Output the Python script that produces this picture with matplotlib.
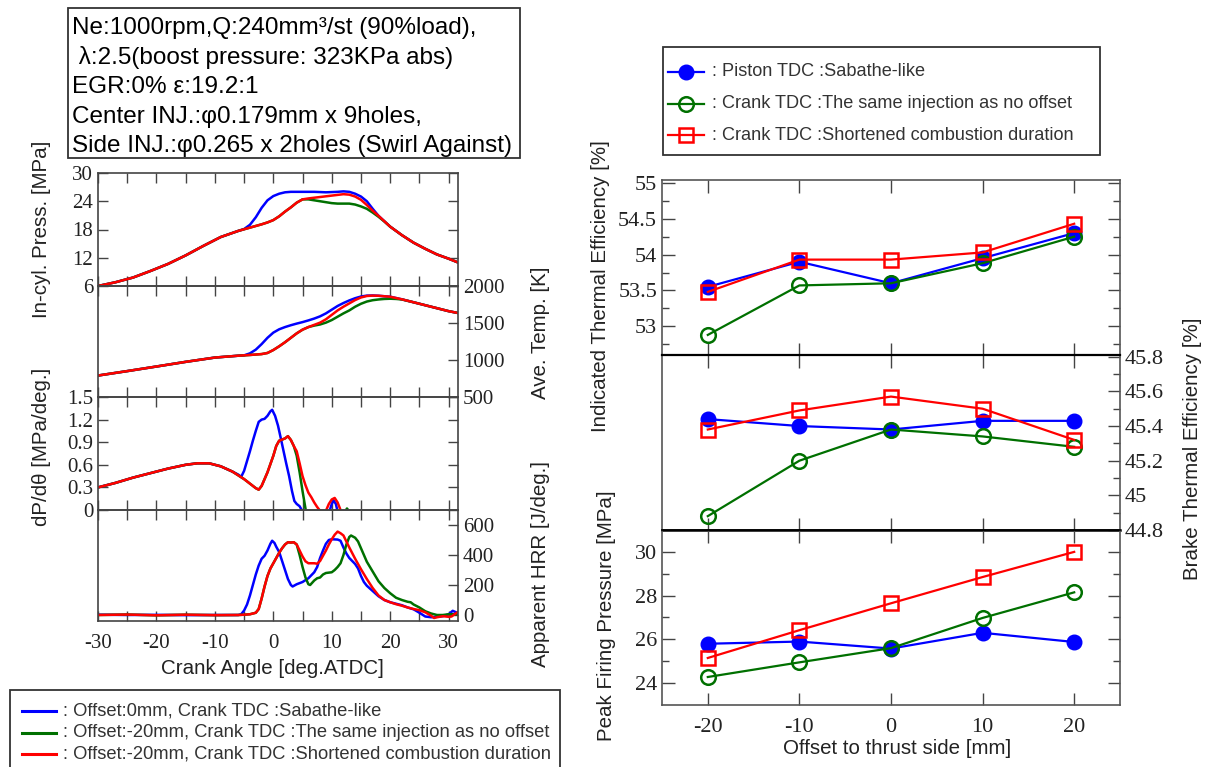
import matplotlib
matplotlib.use('Agg')
import matplotlib.pyplot as plt
from matplotlib.patches import Rectangle
from matplotlib.lines import Line2D

# ---------------- data ----------------
# In-cylinder pressure [MPa]
ca_p_red = [-30, -27, -24, -21, -18, -15, -12, -9, -6, -4, -2, -1, 0, 1, 2, 3, 4, 5, 6, 8, 10, 12, 13,
            14, 15, 16, 17, 18, 20, 22, 24, 26, 28, 30, 31.6]
p_red = [6.0, 6.8, 7.8, 9.2, 10.7, 12.5, 14.5, 16.4, 17.7, 18.4, 19.1, 19.5, 20.0, 20.8, 21.8, 22.7, 23.7,
         24.4, 24.6, 24.9, 25.2, 25.5, 25.4, 25.0, 24.3, 23.2, 22.0, 20.9, 18.6, 16.8, 15.2, 13.9, 12.7,
         11.8, 11.0]
ca_p_blue = [-30, -27, -24, -21, -18, -15, -12, -9, -6, -5, -4, -3, -2, -1, 0, 1, 2, 3, 5, 7, 9, 11, 12,
             13, 14, 15, 16, 17, 18, 20, 22, 24, 26, 28, 30, 31.6]
p_blue = [6.0, 6.8, 7.8, 9.2, 10.7, 12.5, 14.5, 16.4, 17.7, 18.1, 19.0, 20.6, 22.6, 24.2, 25.1, 25.6, 25.9,
          26.0, 26.0, 26.0, 25.9, 26.0, 26.1, 26.0, 25.6, 25.0, 24.0, 22.4, 20.9, 18.6, 16.8, 15.2, 13.9,
          12.7, 11.8, 11.0]
ca_p_green = [-30, -27, -24, -21, -18, -15, -12, -9, -6, -4, -2, -1, 0, 1, 2, 3, 4, 5, 6, 7, 8, 9, 10, 11,
              12, 13, 14, 15, 16, 17, 18, 19, 20, 22, 24, 26, 28, 30, 31.6]
p_green = [6.0, 6.8, 7.8, 9.2, 10.7, 12.5, 14.5, 16.4, 17.7, 18.4, 19.1, 19.5, 20.0, 20.8, 21.8, 22.7, 23.7,
           24.4, 24.4, 24.2, 24.0, 23.8, 23.6, 23.5, 23.5, 23.5, 23.3, 22.9, 22.4, 21.6, 20.7, 19.7, 18.6,
           16.8, 15.2, 13.9, 12.7, 11.8, 11.0]

# Average temperature [K]
ca_t_red = [-30, -25, -20, -15, -10, -6, -4, -2, -1, 0, 1, 2, 3, 4, 5, 6, 7, 8, 9, 10, 11, 12, 13, 14, 15,
            16, 17, 18, 20, 22, 24, 26, 28, 30, 31.6]
t_red = [790, 850, 912, 975, 1033, 1058, 1068, 1080, 1095, 1135, 1185, 1240, 1300, 1360, 1410, 1445, 1475,
         1505, 1550, 1610, 1670, 1720, 1765, 1810, 1845, 1865, 1870, 1868, 1855, 1820, 1780, 1740, 1700,
         1660, 1635]
ca_t_blue = [-30, -25, -20, -15, -10, -6, -5, -4, -3, -2, -1, 0, 1, 2, 3, 4, 5, 6, 7, 8, 9, 10, 11, 12, 13,
             14, 15, 16, 17, 18, 20, 22, 24, 26, 28, 30, 31.6]
t_blue = [790, 850, 912, 975, 1033, 1058, 1063, 1090, 1140, 1215, 1300, 1370, 1415, 1445, 1470, 1492, 1512,
          1535, 1560, 1590, 1630, 1680, 1730, 1770, 1805, 1835, 1858, 1870, 1872, 1868, 1855, 1820, 1780,
          1740, 1700, 1660, 1635]
ca_t_green = [-30, -25, -20, -15, -10, -6, -4, -2, -1, 0, 1, 2, 3, 4, 5, 6, 7, 8, 9, 10, 11, 12, 13, 14, 15,
              16, 17, 18, 19, 20, 21, 22, 24, 26, 28, 30, 31.6]
t_green = [790, 850, 912, 975, 1033, 1058, 1068, 1080, 1095, 1135, 1185, 1240, 1300, 1360, 1410, 1445, 1465,
           1480, 1505, 1540, 1585, 1630, 1670, 1720, 1760, 1790, 1808, 1818, 1825, 1828, 1825, 1818, 1780,
           1740, 1700, 1660, 1635]

# dP/dtheta [MPa/deg]
ca_d_red = [-30, -27, -24, -21, -18, -15, -13, -11, -9, -7, -5, -4, -3, -2.5, -2, -1, 0, 0.5, 1, 2, 2.5, 3,
            3.5, 4, 4.5, 5, 5.5, 6, 6.5, 7, 7.5, 8, 8.5, 9, 9.5, 10, 10.5, 11, 11.5, 12, 13, 31.6]
d_red = [0.30, 0.36, 0.43, 0.49, 0.55, 0.60, 0.62, 0.62, 0.58, 0.51, 0.41, 0.35, 0.29, 0.27, 0.32, 0.50,
         0.72, 0.85, 0.92, 0.95, 0.98, 0.93, 0.85, 0.78, 0.62, 0.45, 0.33, 0.23, 0.17, 0.10, 0.04, -0.01,
         -0.03, -0.01, 0.08, 0.14, 0.16, 0.10, 0.0, -0.15, -0.4, -0.4]
ca_d_blue = [-30, -27, -24, -21, -18, -15, -13, -11, -9, -7, -6, -5.5, -5, -4.5, -4, -3.5, -3, -2.5, -2,
             -1.5, -1, -0.5, -0.2, 0.3, 0.8, 1.2, 1.7, 2.2, 2.7, 3.2, 3.6, 4.0, 4.5, 5.0, 5.5, 9.0, 9.6,
             10.0, 10.3, 10.7, 11.0, 11.5, 31.6]
d_blue = [0.30, 0.36, 0.43, 0.49, 0.55, 0.60, 0.62, 0.62, 0.58, 0.51, 0.47, 0.44, 0.52, 0.65, 0.78, 0.92,
          1.05, 1.17, 1.20, 1.21, 1.25, 1.31, 1.33, 1.25, 1.12, 0.98, 0.80, 0.62, 0.45, 0.25, 0.12, 0.08,
          0.05, -0.02, -0.3, -0.3, -0.02, 0.08, 0.13, 0.08, -0.02, -0.3, -0.4]
ca_d_green = [-30, -27, -24, -21, -18, -15, -13, -11, -9, -7, -5, -4, -3, -2.5, -2, -1, 0, 0.5, 1, 2, 2.5,
              3, 3.5, 4, 4.5, 5, 5.5, 6, 11.5, 12.3, 12.6, 13.0, 14, 31.6]
d_green = [0.30, 0.36, 0.43, 0.49, 0.55, 0.60, 0.62, 0.62, 0.58, 0.51, 0.41, 0.35, 0.29, 0.27, 0.32, 0.50,
           0.72, 0.85, 0.92, 0.95, 0.98, 0.93, 0.85, 0.72, 0.50, 0.25, 0.02, -0.2, -0.2, -0.02, 0.02,
           -0.02, -0.3, -0.4]

# Apparent heat release rate [J/deg]
ca_h_red = [-30, -25, -20, -15, -10, -6, -5, -4, -3, -2.5, -2, -1.5, -1, -0.5, 0, 0.5, 1, 1.5, 2, 2.5, 3,
            3.5, 4, 4.5, 5, 5.5, 6, 7, 7.5, 8, 8.5, 9, 9.5, 10, 10.5, 11, 11.5, 12, 12.5, 13, 14, 15, 16,
            17, 18, 19, 20, 21, 22, 23, 24, 25, 26, 27, 27.5, 28, 29, 30, 30.5, 31, 31.6]
h_red = [0, 3, -2, 2, -1, 0, 2, 5, 15, 40, 110, 190, 260, 310, 345, 380, 415, 445, 470, 485, 483, 485, 470,
         430, 390, 358, 345, 345, 342, 360, 395, 430, 470, 505, 535, 556, 545, 530, 490, 450, 375, 305,
         240, 180, 130, 100, 85, 72, 62, 50, 40, 32, 18, -5, -20, -15, -8, -12, -10, 5, 20]
ca_h_blue = [-30, -25, -20, -15, -10, -6, -5.5, -5, -4.5, -4, -3.5, -3, -2.5, -2, -1.5, -1, -0.5, -0.2, 0.2,
             0.5, 1, 1.5, 2, 2.5, 3, 3.3, 4, 5, 6, 7, 7.5, 8, 8.5, 9, 9.5, 10, 11, 11.5, 12, 12.5, 13, 14,
             14.5, 15, 15.5, 16, 17, 18, 19, 20, 21, 22, 23, 24, 25, 26, 27, 28, 29, 30, 30.7, 31.6]
h_blue = [2, 0, 1, -1, 0, 0, 5, 30, 70, 130, 200, 270, 330, 375, 395, 430, 475, 495, 480, 455, 420, 360,
          300, 240, 200, 190, 205, 220, 245, 285, 320, 380, 430, 475, 500, 505, 503, 495, 450, 410, 380,
          340, 310, 260, 220, 195, 160, 125, 100, 85, 75, 65, 50, 38, 15, -10, -15, -12, -8, 5, 28, 12]
ca_h_green = [-30, -25, -20, -15, -10, -6, -5, -4, -3, -2.5, -2, -1.5, -1, -0.5, 0, 0.5, 1, 1.5, 2, 2.5, 3,
              3.5, 4, 4.5, 5, 5.5, 6, 6.3, 7, 7.5, 8, 8.5, 9, 10, 10.5, 11, 11.5, 12, 12.5, 13, 13.3, 14,
              14.5, 15, 15.5, 16, 17, 18, 19, 20, 21, 22, 23, 23.5, 24, 25, 26, 27, 28, 29, 30, 31.6]
h_green = [0, 3, -2, 2, -1, 0, 2, 5, 15, 40, 110, 190, 260, 310, 345, 380, 415, 445, 470, 485, 483, 485,
           470, 400, 320, 250, 205, 200, 230, 245, 250, 270, 280, 285, 300, 320, 345, 400, 470, 520, 530,
           515, 490, 445, 400, 355, 290, 225, 180, 145, 115, 100, 88, 85, 70, 50, 25, 10, 0, 0, 5, 5]

# Right block: offset study
offset = [-20, -10, 0, 10, 20]
ite_blue = [53.55, 53.90, 53.60, 53.95, 54.30]
ite_green = [52.88, 53.57, 53.60, 53.88, 54.25]
ite_red = [53.48, 53.93, 53.93, 54.03, 54.43]
bte_blue = [45.44, 45.40, 45.38, 45.43, 45.43]
bte_green = [44.88, 45.20, 45.38, 45.34, 45.28]
bte_red = [45.38, 45.49, 45.57, 45.50, 45.32]
pfp_blue = [25.80, 25.90, 25.58, 26.30, 25.88]
pfp_green = [24.28, 24.95, 25.60, 26.98, 28.15]
pfp_red = [25.15, 26.42, 27.65, 28.85, 30.00]

legend_left = [': Offset:0mm, Crank TDC :Sabathe-like',
               ': Offset:-20mm, Crank TDC :The same injection as no offset',
               ': Offset:-20mm, Crank TDC :Shortened combustion duration']
legend_right = [': Piston TDC :Sabathe-like',
                ': Crank TDC :The same injection as no offset',
                ': Crank TDC :Shortened combustion duration']
info_lines = ['Ne:1000rpm,Q:240mm\u00b3/st (90%load),',
              ' \u03bb:2.5(boost pressure: 323KPa abs)',
              'EGR:0% \u03b5:19.2:1',
              'Center INJ.:\u03c60.179mm x 9holes,',
              'Side INJ.:\u03c60.265 x 2holes (Swirl Against)']

# ---------------- style ----------------
BLUE = '#0000ff'
GREEN = '#007000'
RED = '#ff0000'
SERIF = 'Liberation Serif'
SANS = 'Liberation Sans'
TXT = '#222222'
SPINE = '#444444'

W, H = 1211, 767
fig = plt.figure(figsize=(W / 100, H / 100), dpi=100)


def add_ax(x0, y0, x1, y1):
    return fig.add_axes([x0 / W, 1 - y1 / H, (x1 - x0) / W, (y1 - y0) / H])


def fx(x):
    return x / W


def fy(y):
    return 1 - y / H


def style(ax, color=SPINE, size=15):
    for s in ax.spines.values():
        s.set_color(color)
        s.set_linewidth(1.2)
    ax.set_facecolor('none')
    ax.tick_params(which='both', direction='in', colors=SPINE, labelcolor=TXT,
                   labelsize=size, width=1.0)
    for lab in ax.get_xticklabels() + ax.get_yticklabels():
        lab.set_fontfamily(SERIF)


# ---------------- left block ----------------
LX0, LX1 = 98, 458
ax1 = add_ax(LX0, 173, LX1, 286)
ax2 = add_ax(LX0, 286, LX1, 397)
ax3 = add_ax(LX0, 397, LX1, 510)
ax4 = add_ax(LX0, 510, LX1, 621)

lw = 1.8
ax1.plot(ca_p_blue, p_blue, color=BLUE, lw=lw)
ax1.plot(ca_p_green, p_green, color=GREEN, lw=lw)
ax1.plot(ca_p_red, p_red, color=RED, lw=lw)
ax2.plot(ca_t_blue, t_blue, color=BLUE, lw=lw)
ax2.plot(ca_t_green, t_green, color=GREEN, lw=lw)
ax2.plot(ca_t_red, t_red, color=RED, lw=lw)
ax3.plot(ca_d_blue, d_blue, color=BLUE, lw=lw)
ax3.plot(ca_d_green, d_green, color=GREEN, lw=lw)
ax3.plot(ca_d_red, d_red, color=RED, lw=lw)
ax4.plot(ca_h_blue, h_blue, color=BLUE, lw=lw)
ax4.plot(ca_h_green, h_green, color=GREEN, lw=lw)
ax4.plot(ca_h_red, h_red, color=RED, lw=lw)

xt_major = [-30, -20, -10, 0, 10, 20, 30]
xt_minor = [-25, -15, -5, 5, 15, 25]
for ax in (ax1, ax2, ax3, ax4):
    ax.set_xlim(-30, 31.6)
    ax.set_xticks(xt_major)
    ax.set_xticks(xt_minor, minor=True)
    ax.tick_params(axis='x', which='both', top=True, bottom=True, length=7)
    if ax is not ax4:
        ax.set_xticklabels([])

ax1.set_ylim(6, 30)
ax1.set_yticks([6, 12, 18, 24, 30])
ax1.set_yticklabels(['6', '12', '18', '24', '30'])
ax1.tick_params(axis='y', left=True, right=True, length=7)

ax2.set_ylim(500, 2000)
ax2.set_yticks([500, 1000, 1500, 2000])
ax2.set_yticklabels(['500', '1000', '1500', '2000'])
ax2.tick_params(axis='y', left=False, right=True, labelleft=False, labelright=True, length=7)

ax3.set_ylim(0, 1.5)
ax3.set_yticks([0, 0.3, 0.6, 0.9, 1.2, 1.5])
ax3.set_yticklabels(['0', '0.3', '0.6', '0.9', '1.2', '1.5'])
ax3.tick_params(axis='y', left=True, right=True, length=7)

ax4.set_ylim(-40, 700)
ax4.set_yticks([0, 200, 400, 600])
ax4.set_yticklabels(['0', '200', '400', '600'])
ax4.tick_params(axis='y', left=False, right=True, labelleft=False, labelright=True, length=7)
ax4.set_xticklabels([str(v) for v in xt_major])
ax4.tick_params(axis='x', pad=9)

for ax in (ax1, ax2, ax3, ax4):
    style(ax)

# ---------------- right block ----------------
RX0, RX1 = 662, 1120
axT = add_ax(RX0, 180, RX1, 355)
axM = add_ax(RX0, 355, RX1, 530)
axB = add_ax(RX0, 530, RX1, 705)

mk = 10.5
mlw = 1.6


def plot_set(ax, yb, yg, yr):
    ax.plot(offset, yb, color=BLUE, lw=mlw, marker='o', ms=mk, mfc=BLUE, mec=BLUE)
    ax.plot(offset, yg, color=GREEN, lw=mlw, marker='o', ms=mk, mfc='none', mec=GREEN, mew=1.8)
    ax.plot(offset, yr, color=RED, lw=mlw, marker='s', ms=mk, mfc='none', mec=RED, mew=1.8)


plot_set(axT, ite_blue, ite_green, ite_red)
plot_set(axM, bte_blue, bte_green, bte_red)
plot_set(axB, pfp_blue, pfp_green, pfp_red)

for ax in (axT, axM, axB):
    ax.set_xlim(-25, 25)
    ax.set_xticks(offset)
    ax.tick_params(axis='x', which='both', top=True, bottom=True, length=9)
    if ax is not axB:
        ax.set_xticklabels([])

axT.set_ylim(52.6, 55.04)
axT.set_yticks([53, 53.5, 54, 54.5, 55])
axT.set_yticklabels(['53', '53.5', '54', '54.5', '55'])
axT.set_yticks([52.75, 53.25, 53.75, 54.25, 54.75], minor=True)
axT.tick_params(axis='y', which='both', left=True, right=True)
axT.tick_params(axis='y', which='major', length=9)
axT.tick_params(axis='y', which='minor', length=5)

axM.set_ylim(44.8, 45.81)
axM.set_yticks([44.8, 45.0, 45.2, 45.4, 45.6, 45.8])
axM.set_yticklabels(['44.8', '45', '45.2', '45.4', '45.6', '45.8'])
axM.set_yticks([44.9, 45.1, 45.3, 45.5, 45.7], minor=True)
axM.tick_params(axis='y', which='both', left=False, right=True, labelleft=False, labelright=True)
axM.tick_params(axis='y', which='major', length=9)
axM.tick_params(axis='y', which='minor', length=5)

axB.set_ylim(23, 31)
axB.set_yticks([24, 26, 28, 30])
axB.set_yticklabels(['24', '26', '28', '30'])
axB.set_yticks([25, 27, 29], minor=True)
axB.tick_params(axis='y', which='both', left=True, right=True)
axB.tick_params(axis='y', which='major', length=9)
axB.tick_params(axis='y', which='minor', length=5)
axB.set_xticklabels(['-20', '-10', '0', '10', '20'])
axB.tick_params(axis='x', pad=9)

for ax in (axT, axM, axB):
    style(ax, color='#555555', size=16)
axT.spines['bottom'].set_color('black')
axM.spines['top'].set_color('black')
axM.spines['bottom'].set_color('black')
axB.spines['top'].set_color('black')
axM.spines['top'].set_linewidth(1.6)
axM.spines['bottom'].set_linewidth(1.8)

# ---------------- axis labels ----------------
LFS = 14.8
fig.text(fx(42), fy(229), 'In-cyl. Press. [MPa]', rotation=90, ha='center', va='center',
         fontsize=LFS, family=SANS, color=TXT)
fig.text(fx(42), fy(447), 'dP/d\u03b8 [MPa/deg.]', rotation=90, ha='center', va='center',
         fontsize=LFS, family=SANS, color=TXT)
fig.text(fx(541), fy(333), 'Ave. Temp. [K]', rotation=90, ha='center', va='center',
         fontsize=LFS, family=SANS, color=TXT)
fig.text(fx(541), fy(564), 'Apparent HRR [J/deg.]', rotation=90, ha='center', va='center',
         fontsize=LFS, family=SANS, color=TXT)
fig.text(fx(272), fy(668), 'Crank Angle [deg.ATDC]', ha='center', va='center',
         fontsize=LFS, family=SANS, color=TXT)
fig.text(fx(600), fy(286), 'Indicated Thermal Efficiency [%]', rotation=90, ha='center', va='center',
         fontsize=LFS, family=SANS, color=TXT)
fig.text(fx(606), fy(616), 'Peak Firing Pressure [MPa]', rotation=90, ha='center', va='center',
         fontsize=LFS, family=SANS, color=TXT)
fig.text(fx(1193), fy(449), 'Brake Thermal Efficiency [%]', rotation=90, ha='center', va='center',
         fontsize=LFS, family=SANS, color=TXT)
fig.text(fx(897), fy(748), 'Offset to thrust side [mm]', ha='center', va='center',
         fontsize=LFS, family=SANS, color=TXT)

# ---------------- info box ----------------
fig.add_artist(Rectangle((fx(68), fy(158)), fx(520) - fx(68), fy(8) - fy(158), transform=fig.transFigure,
                         fill=False, edgecolor='#333333', lw=1.3))
for i, line in enumerate(info_lines):
    fig.text(fx(72), fy(28 + i * 29.6), line, ha='left', va='center', fontsize=17.5,
             family=[SANS, 'DejaVu Sans'], color='black')

# ---------------- left legend ----------------
fig.add_artist(Rectangle((fx(10), fy(780)), fx(560) - fx(10), fy(690) - fy(780), transform=fig.transFigure,
                         fill=False, edgecolor='#333333', lw=1.3))
for i, (c, txt) in enumerate(zip([BLUE, GREEN, RED], legend_left)):
    yy = fy(711 + i * 21.5)
    fig.add_artist(Line2D([fx(22), fx(56)], [yy, yy], transform=fig.transFigure, color=c, lw=2.2))
    fig.text(fx(63), yy, txt, ha='left', va='center', fontsize=13.2, family=SANS, color='#333333')

# ---------------- right legend ----------------
fig.add_artist(Rectangle((fx(663), fy(155)), fx(1100) - fx(663), fy(47) - fy(155), transform=fig.transFigure,
                         fill=False, edgecolor='#333333', lw=1.3))
styles = [dict(color=BLUE, marker='o', mfc=BLUE, mec=BLUE),
          dict(color=GREEN, marker='o', mfc='none', mec=GREEN, mew=1.8),
          dict(color=RED, marker='s', mfc='none', mec=RED, mew=1.8)]
for i, (st, txt) in enumerate(zip(styles, legend_right)):
    yy = fy(72 + i * 31.5)
    fig.add_artist(Line2D([fx(668), fx(704)], [yy, yy], transform=fig.transFigure, lw=1.6, color=st['color']))
    fig.add_artist(Line2D([fx(686)], [yy], transform=fig.transFigure, lw=0, ms=10.5,
                          marker=st['marker'], mfc=st['mfc'], mec=st['mec'], mew=st.get('mew', 1)))
    fig.text(fx(712), yy, txt, ha='left', va='center', fontsize=13.1, family=SANS, color='#333333')

fig.savefig('out.png', dpi=100)
